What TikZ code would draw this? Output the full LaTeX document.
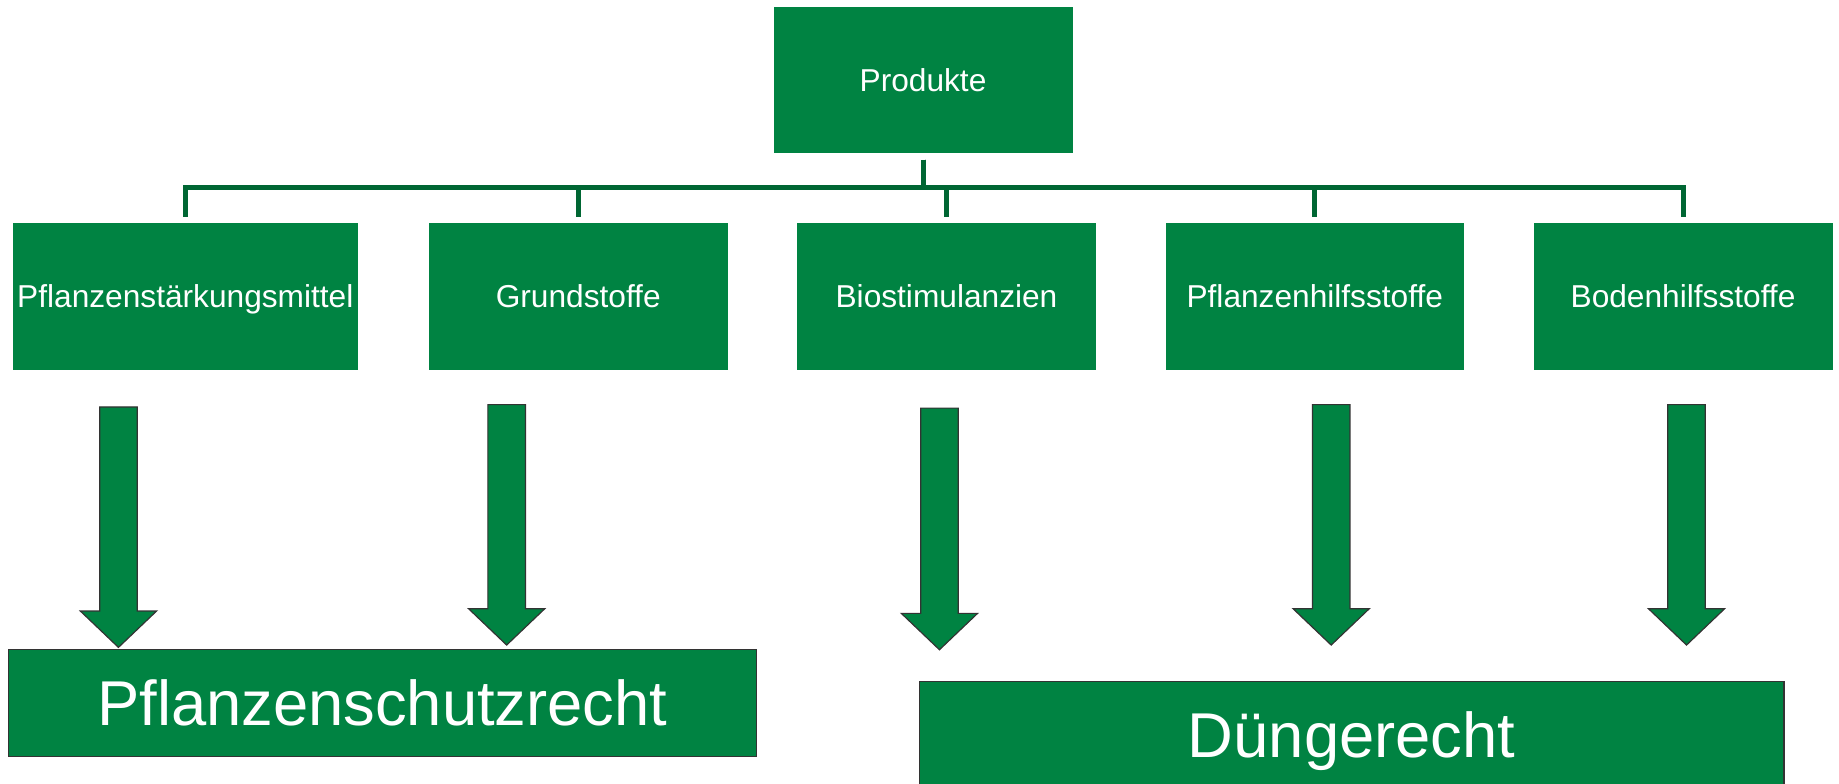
\documentclass[tikz,border=0pt]{standalone}
\usepackage{fontspec}
\setmainfont{Liberation Sans}
\definecolor{boxgreen}{RGB}{0,131,66}
\definecolor{linegreen}{RGB}{0,102,51}
\definecolor{edgegray}{RGB}{51,51,51}
\newcommand{\grarrow}[4]{%
  \draw[blockarrow] (#1-16,#2) -- (#1+16,#2) -- (#1+16,#3) -- (#1+32.5,#3)
    -- (#1,#4) -- (#1-32.5,#3) -- (#1-16,#3) -- cycle;}
\begin{document}
\begin{tikzpicture}[x=1pt,y=-1pt,
  box/.style={rectangle, fill=boxgreen, draw=boxgreen, inner sep=0pt, text=white,
    font=\fontsize{27}{32}\selectfont, text height=19.3pt, text depth=0pt},
  lawbox/.style={rectangle, fill=boxgreen, draw=edgegray, line width=1.2pt, inner sep=0pt,
    text=white, font=\fontsize{54}{64}\selectfont, text height=38.7pt, text depth=0pt},
  tree/.style={draw=linegreen, line width=4.3pt, line join=miter},
  blockarrow/.style={fill=boxgreen, draw=edgegray, line width=1pt, line join=miter}]
\useasboundingbox (0,0) rectangle (1568,668);

\node[box, minimum width=254pt, minimum height=124pt] (prod) at (787,68) {Produkte};

\node[box, minimum width=294pt, minimum height=125pt] (c1) at (158,252.5) {Pflanzenstärkungsmittel};
\node[box, minimum width=254pt, minimum height=125pt] (c2) at (493,252.5) {Grundstoffe};
\node[box, minimum width=254pt, minimum height=125pt] (c3) at (807,252.5) {Biostimulanzien};
\node[box, minimum width=254pt, minimum height=125pt] (c4) at (1121,252.5) {Pflanzenhilfsstoffe};
\node[box, minimum width=254pt, minimum height=125pt] (c5) at (1435,252.5) {Bodenhilfsstoffe};

\foreach \c in {c1,c2,c3,c4,c5}
  \draw[tree] ([yshift=-6pt]prod.south) -- ++(0,24) -| ([yshift=5pt]\c.north);

\node[lawbox, minimum width=638pt, minimum height=91pt] (ps) at (326,599.5) {Pflanzenschutzrecht};
\node[lawbox, minimum width=737pt, minimum height=91pt] (dr) at (1152.5,626.5) {Düngerecht};

\grarrow{101}{347}{521}{552}
\grarrow{432}{345}{519}{550}
\grarrow{801}{348}{523}{554}
\grarrow{1135}{345}{519}{550}
\grarrow{1438}{345}{519}{550}
\end{tikzpicture}
\end{document}
